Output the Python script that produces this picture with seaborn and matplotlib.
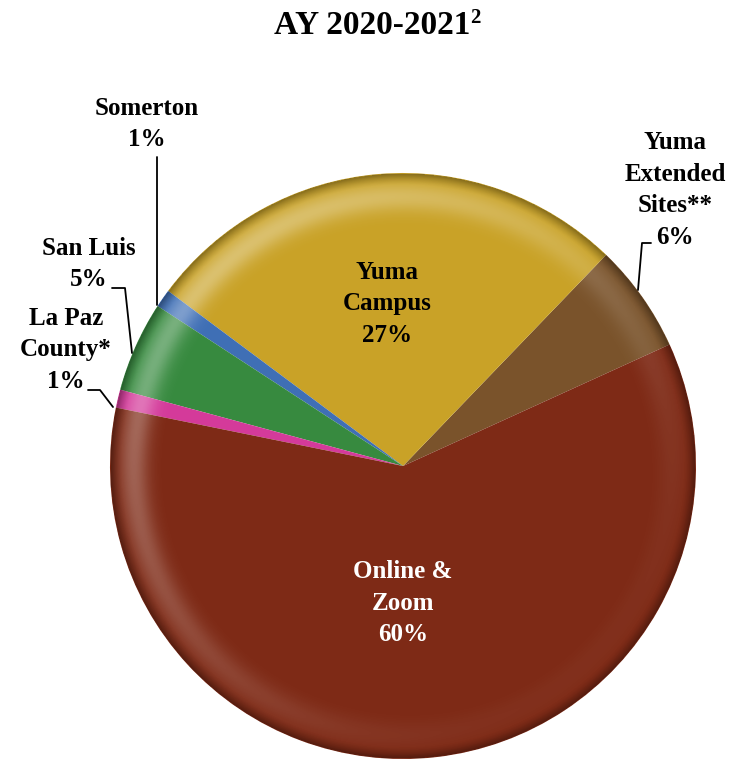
import matplotlib
matplotlib.use("Agg")
import matplotlib.pyplot as plt
import seaborn as sns
import numpy as np

sns.set_theme(style="white")
plt.rcParams['font.family'] = ['Liberation Serif', 'DejaVu Serif']
plt.rcParams['text.color'] = 'black'

# Data (counterclockwise order starting at the right)
categories = ["Yuma Extended Sites**", "Yuma Campus", "Somerton", "San Luis", "La Paz County*", "Online & Zoom"]
values = [6, 27, 1, 5, 1, 60]
colors = ["#7A532B", "#C9A227", "#3F6FB5", "#378A3F", "#D43A9A", "#7E2A16"]

W, H = 736, 761
fig = plt.figure(figsize=(W / 100, H / 100), dpi=100)
ax = fig.add_axes([0, 0, 1, 1])

cx, cy, R = 403, 466, 293  # pixel center (from top) and radius

def px(x, y):
    """pixel coords (from top-left) -> data coords"""
    return ((x - cx) / R, (cy - y) / R)

wedges, _ = ax.pie(values, colors=colors, startangle=24.5, counterclock=True,
                   radius=1.0, center=(0, 0),
                   wedgeprops=dict(linewidth=0, antialiased=True))

# subtle bevel shading: light band near rim (upper-left), dark at very edge
n = 700
xs = np.linspace(-1, 1, n)
XX, YY = np.meshgrid(xs, xs)
rr = np.sqrt(XX ** 2 + YY ** 2)
th = np.arctan2(YY, XX)
direc = (1 + np.cos(th - np.deg2rad(135))) / 2
hl = np.exp(-((rr - 0.92) / 0.05) ** 2) * (0.03 + 0.30 * direc ** 1.5)
dark = np.clip((rr - 0.96) / 0.04, 0, 1) ** 1.5 * 0.35
white = np.zeros((n, n, 4)); white[..., :3] = 1.0
white[..., 3] = np.where(rr <= 1, hl, 0)
black = np.zeros((n, n, 4))
black[..., 3] = np.where(rr <= 1, dark, 0)
for w in wedges:
    for img in (white, black):
        im = ax.imshow(img, extent=(-1, 1, -1, 1), origin="lower", zorder=3,
                       interpolation='bilinear')
        im.set_clip_path(w)

ax.set_xlim(-cx / R, (W - cx) / R)
ax.set_ylim(-(H - cy) / R, cy / R)
ax.set_aspect('auto')
ax.axis('off')

fs = 18
kw = dict(fontsize=fs, fontweight='bold', ha='center', va='center', linespacing=1.48, zorder=5)

# Title
ax.text(*px(372, 26), "AY 2020-2021", fontsize=24, fontweight='bold', ha='center', va='center', color='black')
ax.text(*px(475, 18), "2", fontsize=15, fontweight='bold', ha='center', va='center', color='black')

# In-slice labels
ax.text(*px(387, 304), "Yuma\nCampus\n27%", color='black', **kw)
ax.text(*px(403, 603), "Online &\nZoom\n60%", color='white', **kw)

# Outside labels
ax.text(*px(675, 190), "Yuma\nExtended\nSites**\n6%", color='black', **kw)
ax.text(*px(147, 124), "Somerton\n1%", color='black', **kw)
ax.text(*px(89, 264), "San Luis\n5%", color='black', **kw)
ax.text(*px(66, 350), "La Paz\nCounty*\n1%", color='black', **kw)

def leader(points):
    pts = [px(x, y) for x, y in points]
    ax.plot([p[0] for p in pts], [p[1] for p in pts], color='black', lw=1.3, zorder=6)

leader([(651, 243), (642, 243), (638, 290)])
leader([(157, 157), (157, 305)])
leader([(112, 288), (125, 288), (132, 353)])
leader([(88, 390), (100, 390), (113, 407)])

fig.savefig("out.png", dpi=100, facecolor='white')
